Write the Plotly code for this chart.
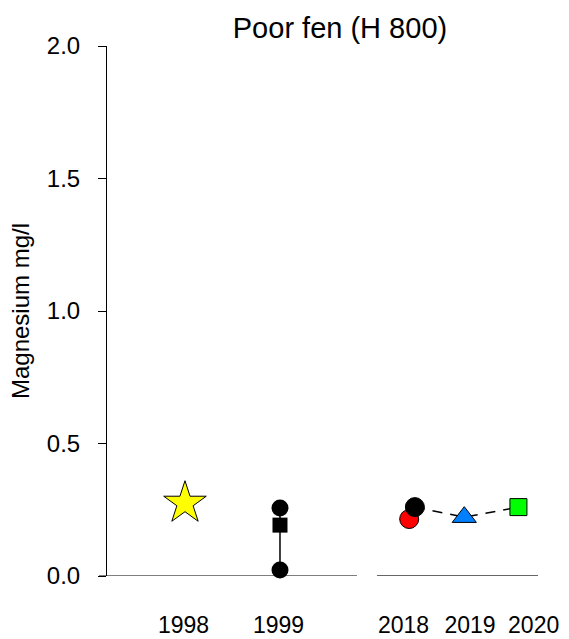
import plotly.graph_objects as go

# ---- data ----
tick_labels = ["1998", "1999", "2018", "2019", "2020"]
tick_pos = [0.985, 1.985, 3.30, 4.00, 4.67]          # label positions on the x scale

x_1998 = [1.0]
mg_1998_star = [0.275]

x_1999 = [2.0]
mg_1999_max = [0.257]
mg_1999_mean = [0.192]
mg_1999_min = [0.023]

x_2018_red = [3.36]
mg_2018_red = [0.215]

x_series = [3.42, 3.94, 4.51]
mg_series = [0.26, 0.222, 0.26]
series_symbols = ["circle", "triangle-up", "square"]
series_colors = ["black", "#0080FF", "#00FF00"]
series_sizes = [19, 21, 17]

fig = go.Figure()

# 1998 star
fig.add_trace(go.Scatter(
    x=x_1998, y=mg_1998_star, mode="markers",
    marker=dict(symbol="star", size=32, color="#FFFF00", opacity=1,
                line=dict(color="black", width=1)),
    cliponaxis=False, showlegend=False))

# 1999 range line + markers
fig.add_trace(go.Scatter(
    x=x_1999 + x_1999, y=mg_1999_min + mg_1999_max, mode="lines+markers",
    line=dict(color="black", width=1.5),
    marker=dict(symbol="circle", size=17, color="black", opacity=1),
    cliponaxis=False, showlegend=False))
fig.add_trace(go.Scatter(
    x=x_1999, y=mg_1999_mean, mode="markers",
    marker=dict(symbol="square", size=15, color="black", opacity=1),
    cliponaxis=False, showlegend=False))

# 2018 red circle
fig.add_trace(go.Scatter(
    x=x_2018_red, y=mg_2018_red, mode="markers",
    marker=dict(symbol="circle", size=19, color="#FF0000", opacity=1,
                line=dict(color="black", width=1)),
    cliponaxis=False, showlegend=False))

# 2018-2020 dashed line
fig.add_trace(go.Scatter(
    x=x_series, y=mg_series, mode="lines",
    line=dict(color="black", width=1.5, dash="10px,8px"),
    cliponaxis=False, showlegend=False))
# 2018-2020 markers
fig.add_trace(go.Scatter(
    x=x_series, y=mg_series, mode="markers",
    marker=dict(symbol=series_symbols, size=series_sizes, color=series_colors, opacity=1,
                line=dict(color="black", width=1)),
    cliponaxis=False, showlegend=False))

# broken x-axis baseline
fig.add_shape(type="line", xref="paper", yref="y", x0=-0.0186, x1=0.580, y0=0, y1=0,
              line=dict(color="black", width=1.2), layer="below")
fig.add_shape(type="line", xref="paper", yref="y", x0=0.6265, x1=1.0, y0=0, y1=0,
              line=dict(color="#333333", width=1.5), layer="below")

fig.update_layout(
    width=569, height=639,
    margin=dict(l=107, r=31, t=46, b=63, autoexpand=False),
    paper_bgcolor="white", plot_bgcolor="white",
    font=dict(family="Liberation Sans, Arial, sans-serif", color="black", size=24),
    title=dict(text="Poor fen (H 800)", x=0.5975, xref="container", xanchor="center",
               y=0.957, yref="container", yanchor="middle",
               font=dict(size=29, color="black")),
    xaxis=dict(range=[0.179, 4.716], showline=False, showgrid=False, zeroline=False,
               automargin=False,
               tickmode="array", tickvals=tick_pos, ticktext=tick_labels,
               ticks="", ticklabelstandoff=33, tickfont=dict(size=23)),
    yaxis=dict(range=[0, 2], showline=True, linecolor="black", linewidth=1,
               showgrid=False, zeroline=False, automargin=False,
               tickmode="array", tickvals=[0, 0.5, 1.0, 1.5, 2.0], tickformat=".1f",
               ticks="outside", ticklen=8, tickwidth=1, tickcolor="black",
               ticklabelstandoff=13, tickfont=dict(size=24),
               title=dict(text="Magnesium mg/l", font=dict(size=24), standoff=10)),
)

fig.write_html("out.html", config={"displayModeBar": False},
               post_script="document.body.style.margin='0';document.body.style.overflow='hidden';")
